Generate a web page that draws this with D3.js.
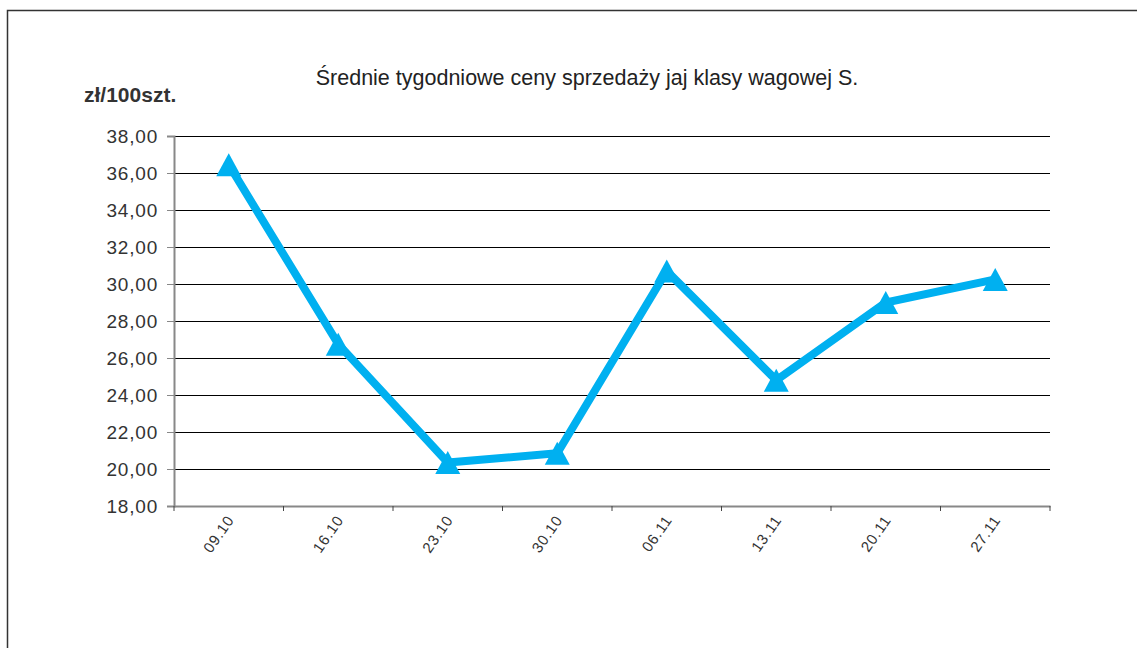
<!DOCTYPE html>
<html>
<head>
<meta charset="utf-8">
<script src="https://cdn.jsdelivr.net/npm/d3@7"></script>
<style>
  body { margin: 0; background: #fff; }
  text { font-family: 'Liberation Sans', Arial, sans-serif; }
</style>
</head>
<body>
<div id="chart"></div>
<script>
const weeks = ['09.10', '16.10', '23.10', '30.10', '06.11', '13.11', '20.11', '27.11']
const prices = [36.45, 26.75, 20.35, 20.85, 30.7, 24.8, 29.0, 30.25]
const yTicks = [18, 20, 22, 24, 26, 28, 30, 32, 34, 36, 38]

const width = 1137
const height = 648
const margin = { top: 136, left: 174, right: 87, bottom: 142 }
const innerW = width - margin.left - margin.right
const innerH = height - margin.top - margin.bottom

const svg = d3
  .select('#chart')
  .append('svg')
  .attr('width', width)
  .attr('height', height)

// outer frame
svg
  .append('rect')
  .attr('x', 7.5)
  .attr('y', 10.5)
  .attr('width', 1140)
  .attr('height', 700)
  .attr('fill', 'none')
  .attr('stroke', '#333')
  .attr('stroke-width', 1.5)

svg
  .append('text')
  .attr('x', 587)
  .attr('y', 85)
  .attr('text-anchor', 'middle')
  .attr('font-size', 21.5)
  .attr('fill', '#222')
  .text('Średnie tygodniowe ceny sprzedaży jaj klasy wagowej S.')

svg
  .append('text')
  .attr('x', 84)
  .attr('y', 102)
  .attr('font-size', 21)
  .attr('font-weight', 'bold')
  .attr('fill', '#333')
  .text('zł/100szt.')

const g = svg
  .append('g')
  .attr('transform', `translate(${margin.left},${margin.top})`)

const x = d3.scaleBand().domain(weeks).range([0, innerW])
const y = d3.scaleLinear().domain([18, 38]).range([innerH, 0])

// gridlines
g.selectAll('.grid')
  .data(yTicks.filter(d => d > 18))
  .enter()
  .append('line')
  .attr('x1', 0)
  .attr('x2', innerW)
  .attr('y1', d => Math.round(y(d)) + 0.5)
  .attr('y2', d => Math.round(y(d)) + 0.5)
  .attr('stroke', '#000')
  .attr('stroke-width', 1)

// y axis
const yAxis = g
  .append('g')
  .call(
    d3.axisLeft(y)
      .tickValues(yTicks)
      .tickSize(7)
      .tickPadding(9)
      .tickFormat(d => d3.format('.2f')(d).replace('.', ','))
  )
yAxis.select('.domain').attr('stroke', '#888').attr('stroke-width', 2)
yAxis.selectAll('.tick line').attr('stroke', '#888')
yAxis
  .selectAll('.tick text')
  .attr('font-size', 19)
  .attr('letter-spacing', 0.8)
  .attr('fill', '#333')
  .attr('font-family', "'Liberation Sans', Arial, sans-serif")

// x axis
const xAxis = g
  .append('g')
  .attr('transform', `translate(0,${innerH})`)
  .call(d3.axisBottom(x).tickSize(0).tickFormat(''))
xAxis.select('.domain').attr('stroke', '#888').attr('stroke-width', 2)

g.selectAll('.xtick')
  .data(weeks.concat(['end']))
  .enter()
  .append('line')
  .attr('x1', (d, i) => i * x.step())
  .attr('x2', (d, i) => i * x.step())
  .attr('y1', innerH)
  .attr('y2', innerH + 5)
  .attr('stroke', '#444')

g.selectAll('.xlabel')
  .data(weeks)
  .enter()
  .append('text')
  .attr('text-anchor', 'end')
  .attr('font-size', 15)
  .attr('letter-spacing', 0.8)
  .attr('fill', '#333')
  .attr('transform', d => `translate(${x(d) + x.bandwidth() / 2 + 6},${innerH + 14}) rotate(-55)`)
  .text(d => d)

// line
const line = d3
  .line()
  .x((d, i) => x(weeks[i]) + x.bandwidth() / 2)
  .y(d => y(d))

g.append('path')
  .datum(prices)
  .attr('d', line)
  .attr('fill', 'none')
  .attr('stroke', '#00b0f0')
  .attr('stroke-width', 8)
  .attr('stroke-linejoin', 'miter')

// triangle marker centred on its bounding box, like the original
const triW = 25
const triH = 23
const tri = () => {
  const p = d3.path()
  p.moveTo(0, -triH / 2)
  p.lineTo(triW / 2, triH / 2)
  p.lineTo(-triW / 2, triH / 2)
  p.closePath()
  return p.toString()
}
g.selectAll('.marker')
  .data(prices)
  .enter()
  .append('path')
  .attr('d', tri)
  .attr('fill', '#00b0f0')
  .attr('transform', (d, i) => `translate(${x(weeks[i]) + x.bandwidth() / 2},${y(d)})`)
</script>
</body>
</html>
